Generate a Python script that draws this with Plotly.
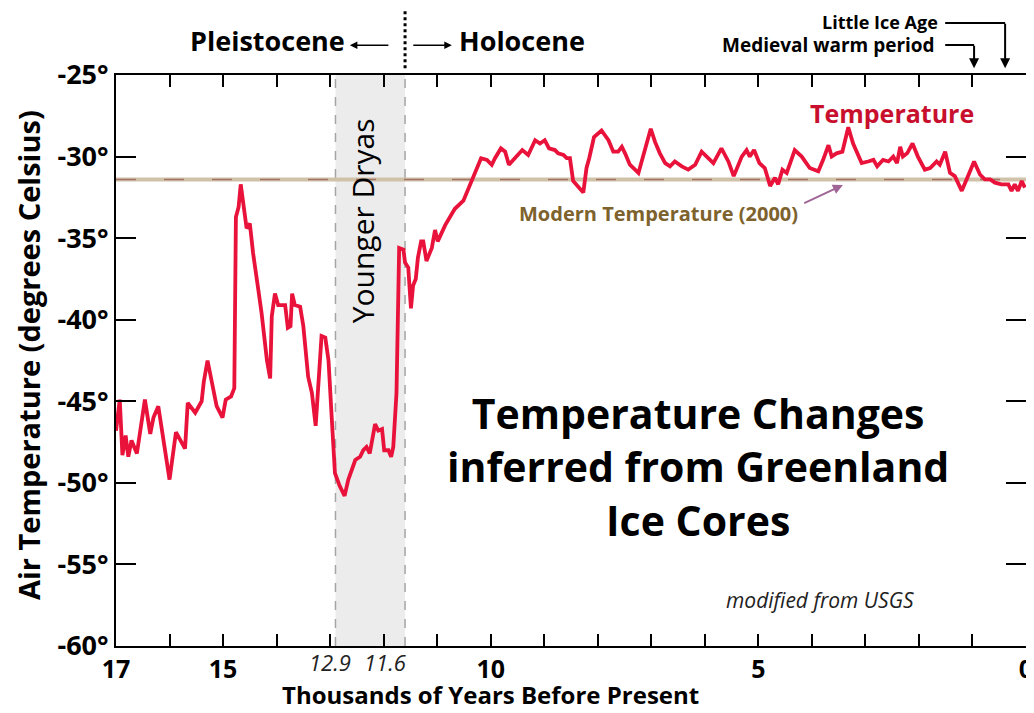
import plotly.graph_objects as go

# Thousands of years before present (left to right) and air temperature (deg C)
years_kyr = [17.00, 16.93, 16.88, 16.82, 16.77, 16.71, 16.61, 16.46, 16.36, 16.30, 16.21, 16.00,
             15.88, 15.71, 15.66, 15.52, 15.40, 15.36, 15.29, 15.23, 15.12, 15.01, 14.95, 14.85,
             14.79, 14.76, 14.71, 14.67, 14.62, 14.56, 14.50, 14.44, 14.34, 14.28, 14.18, 14.12,
             14.09, 14.03, 13.97, 13.84, 13.79, 13.74, 13.71, 13.66, 13.56, 13.50, 13.41, 13.34,
             13.27, 13.22, 13.16, 13.09, 13.03, 12.97, 12.91, 12.82, 12.73, 12.66, 12.53, 12.44,
             12.38, 12.32, 12.26, 12.16, 12.10, 12.03, 11.99, 11.91, 11.86, 11.82, 11.76, 11.71,
             11.63, 11.60, 11.54, 11.49, 11.45, 11.40, 11.36, 11.30, 11.26, 11.20, 11.10, 11.04,
             10.99, 10.85, 10.67, 10.51, 10.36, 10.18, 10.07, 9.98, 9.92, 9.81, 9.73, 9.66,
             9.55, 9.41, 9.30, 9.17, 9.08, 8.99, 8.91, 8.80, 8.74, 8.64, 8.58, 8.52,
             8.46, 8.38, 8.27, 8.21, 8.16, 8.07, 7.93, 7.80, 7.71, 7.62, 7.55, 7.49,
             7.40, 7.24, 7.12, 7.01, 6.93, 6.84, 6.74, 6.65, 6.56, 6.43, 6.31, 6.18,
             6.06, 5.96, 5.84, 5.69, 5.56, 5.46, 5.31, 5.22, 5.16, 5.08, 4.98, 4.88,
             4.78, 4.69, 4.63, 4.55, 4.47, 4.32, 4.19, 4.04, 3.88, 3.79, 3.69, 3.63,
             3.54, 3.43, 3.32, 3.23, 3.07, 2.95, 2.85, 2.78, 2.67, 2.57, 2.48, 2.41,
             2.35, 2.30, 2.22, 2.12, 2.02, 1.89, 1.79, 1.67, 1.61, 1.51, 1.42, 1.33,
             1.20, 1.11, 0.97, 0.86, 0.77, 0.67, 0.58, 0.46, 0.33, 0.27, 0.21, 0.15,
             0.08, 0.02]
temp_c = [-46.8, -44.9, -48.3, -47.1, -48.4, -47.4, -48.2, -44.9, -47.0, -46.0, -45.3, -49.8,
          -46.9, -47.9, -45.1, -45.7, -45.0, -43.8, -42.5, -43.4, -45.3, -46.0, -44.9, -44.7,
          -44.2, -33.7, -33.1, -31.7, -33.1, -34.4, -34.1, -35.9, -38.2, -39.6, -42.5, -43.6,
          -39.8, -38.4, -39.1, -39.1, -40.5, -40.4, -38.4, -39.1, -39.2, -40.4, -43.5, -44.5,
          -46.5, -44.1, -41.0, -41.1, -42.5, -46.0, -49.4, -50.2, -50.8, -49.8, -48.6, -48.4,
          -48.0, -47.8, -48.2, -46.4, -46.8, -46.7, -48.0, -48.0, -48.4, -47.8, -44.5, -35.6,
          -35.7, -36.5, -36.8, -39.3, -37.9, -37.5, -36.2, -35.2, -35.2, -36.4, -35.6, -34.5,
          -35.2, -34.2, -33.2, -32.7, -31.5, -30.1, -30.2, -30.5, -30.1, -29.5, -29.7, -30.5,
          -30.1, -29.6, -29.9, -29.0, -29.2, -29.0, -29.5, -29.6, -29.8, -29.9, -30.1, -30.1,
          -31.5, -31.8, -32.2, -30.7, -30.1, -28.8, -28.4, -29.0, -29.7, -29.7, -29.4, -29.8,
          -30.5, -31.0, -29.6, -28.3, -29.1, -29.8, -30.4, -30.6, -30.3, -30.6, -30.8, -30.5,
          -29.7, -30.0, -30.4, -29.5, -30.3, -31.2, -30.0, -29.6, -30.0, -29.6, -30.4, -30.7,
          -31.8, -31.3, -31.7, -30.8, -31.0, -29.6, -30.0, -30.7, -30.9, -30.2, -29.3, -30.0,
          -29.8, -29.7, -28.2, -29.2, -30.4, -30.3, -30.2, -30.6, -30.2, -30.3, -30.0, -30.4,
          -29.4, -30.0, -29.8, -29.2, -30.0, -30.8, -30.7, -30.3, -30.5, -29.7, -31.0, -31.2,
          -32.1, -31.4, -30.3, -31.1, -31.4, -31.4, -31.6, -31.7, -31.7, -32.1, -31.7, -32.1,
          -31.5, -31.9]

modern_temp = -31.4
x_range = [17, 0]
y_range = [-60, -25]
x_tick_vals = list(range(0, 18))
x_tick_labelled = {17: "17", 15: "15", 10: "10", 5: "5", 0: "0"}
y_tick_vals = [-60, -55, -50, -45, -40, -35, -30, -25]
younger_dryas = [12.9, 11.6]
little_ice_age_kyr = 0.39
medieval_kyr = 0.97

FONT = "Open Sans"
red = "rgb(232,18,58)"

fig = go.Figure()

fig.add_trace(go.Scatter(x=[x_range[0], x_range[1]], y=[modern_temp, modern_temp], mode="lines",
                         line=dict(color="rgb(208,194,168)", width=4), hoverinfo="skip", showlegend=False))
fig.add_trace(go.Scatter(x=[x_range[0], x_range[1]], y=[modern_temp, modern_temp], mode="lines",
                         line=dict(color="rgb(165,115,105)", width=1.5, dash="20px,28px"),
                         hoverinfo="skip", showlegend=False))
fig.add_trace(go.Scatter(x=years_kyr, y=temp_c, mode="lines",
                         line=dict(color=red, width=3.8), showlegend=False))

shapes = [
    dict(type="rect", xref="x", yref="y", x0=younger_dryas[0], x1=younger_dryas[1], y0=y_range[0], y1=y_range[1],
         fillcolor="rgb(236,236,236)", line=dict(width=0), layer="below"),
    dict(type="line", xref="x", yref="y", x0=younger_dryas[0], x1=younger_dryas[0], y0=y_range[0], y1=y_range[1],
         line=dict(color="rgb(165,165,165)", width=1.5, dash="dash"), layer="below"),
    dict(type="line", xref="x", yref="y", x0=younger_dryas[1], x1=younger_dryas[1], y0=y_range[0], y1=y_range[1],
         line=dict(color="rgb(165,165,165)", width=1.5, dash="dash"), layer="below"),
    # Pleistocene / Holocene boundary
    dict(type="line", xref="x", yref="paper", x0=younger_dryas[1], x1=younger_dryas[1], y0=1.012, y1=1.117,
         line=dict(color="black", width=3, dash="dot")),
    # Little Ice Age / Medieval connectors
    dict(type="line", xref="x", yref="paper", x0=1.51, x1=little_ice_age_kyr, y0=1.091, y1=1.091,
         line=dict(color="black", width=2)),
    dict(type="line", xref="x", yref="paper", x0=1.51, x1=medieval_kyr, y0=1.0525, y1=1.0525,
         line=dict(color="black", width=2)),
]


def ann(text, x, y, xref="paper", yref="paper", size=20, color="black", bold=True, **kw):
    d = dict(text=text, x=x, y=y, xref=xref, yref=yref, showarrow=False,
             xanchor=kw.pop("xanchor", "center"), yanchor=kw.pop("yanchor", "middle"),
             font=dict(family=FONT, size=size, color=color, weight="bold" if bold else "normal"))
    d.update(kw)
    return d


def arrow(x, y, ax, ay, xref="paper", yref="paper", color="black", width=1.5, **kw):
    d = dict(text="", x=x, y=y, xref=xref, yref=yref, ax=ax, ay=ay, showarrow=True,
             arrowhead=2, arrowsize=1, arrowwidth=width, arrowcolor=color)
    d.update(kw)
    return d


annotations = [
    ann("Younger Dryas", 12.4, -33.95, "x", "y", size=30, bold=False, textangle=-90),
    ann("Temperature", 2.5, -27.3, "x", "y", size=25, color="rgb(200,16,46)"),
    ann("Modern Temperature (2000)", 6.86, -33.46, "x", "y", size=20, color="rgb(125,98,45)"),
    arrow(3.42, -31.74, 4.17, -32.9, "x", "y", color="rgb(160,100,150)", width=2, axref="x", ayref="y"),
    ann("Temperature Changes<br>inferred from Greenland<br>Ice Cores", 6.13, -48.97, "x", "y", size=41),
    ann("<i>modified from USGS</i>", 3.85, -57.19, "x", "y", size=21, bold=False, color="#222"),
    ann("Pleistocene", 0.167, 1.061, size=27),
    ann("Holocene", 0.446, 1.061, size=27),
    arrow(0.257, 1.052, 40, 0),
    arrow(0.369, 1.052, -40, 0),
    ann("Little Ice Age", 0.9055, 1.0928, size=18, xanchor="right"),
    ann("Medieval warm period", 0.902, 1.0525, size=19, xanchor="right"),
    arrow(little_ice_age_kyr, 1.012, 0, -46, "x", "paper", width=2),
    arrow(medieval_kyr, 1.012, 0, -24, "x", "paper", width=2),
    ann("Air Temperature (degrees Celsius)", -0.0967, 0.5096, size=29, textangle=-90),
    ann("Thousands of Years Before Present", 0.411, -0.085, size=24),
    ann("<i>12.9</i>", younger_dryas[0], -0.028, "x", "paper", size=22, bold=False, color="#222", xshift=-5),
    ann("<i>11.6</i>", younger_dryas[1], -0.028, "x", "paper", size=22, bold=False, color="#222", xshift=-20),
]

# The page body adds an 8px offset; the figure is sized so the plot area lands where the reference has it.
fig.update_layout(
    width=1026, height=705,
    margin=dict(l=108, r=8, t=67, b=67),
    paper_bgcolor="white", plot_bgcolor="white",
    shapes=shapes, annotations=annotations,
    xaxis=dict(range=x_range, showgrid=False, zeroline=False, showline=True, linecolor="black", linewidth=2,
               mirror="ticks", ticks="inside", ticklen=12, tickwidth=2, tickcolor="black", automargin=False,
               ticklabeloverflow="allow",
               tickvals=x_tick_vals, ticktext=[x_tick_labelled.get(v, "") for v in x_tick_vals],
               tickfont=dict(family=FONT, size=25, color="black", weight="bold")),
    yaxis=dict(range=y_range, showgrid=False, zeroline=False, showline=True, linecolor="black", linewidth=2,
               mirror="ticks", ticks="inside", ticklen=20, tickwidth=2, tickcolor="black", automargin=False,
               tickvals=y_tick_vals, ticktext=[f"{v}°" for v in y_tick_vals],
               tickfont=dict(family=FONT, size=27, color="black", weight="bold")),
)

fig.write_html("out.html")
